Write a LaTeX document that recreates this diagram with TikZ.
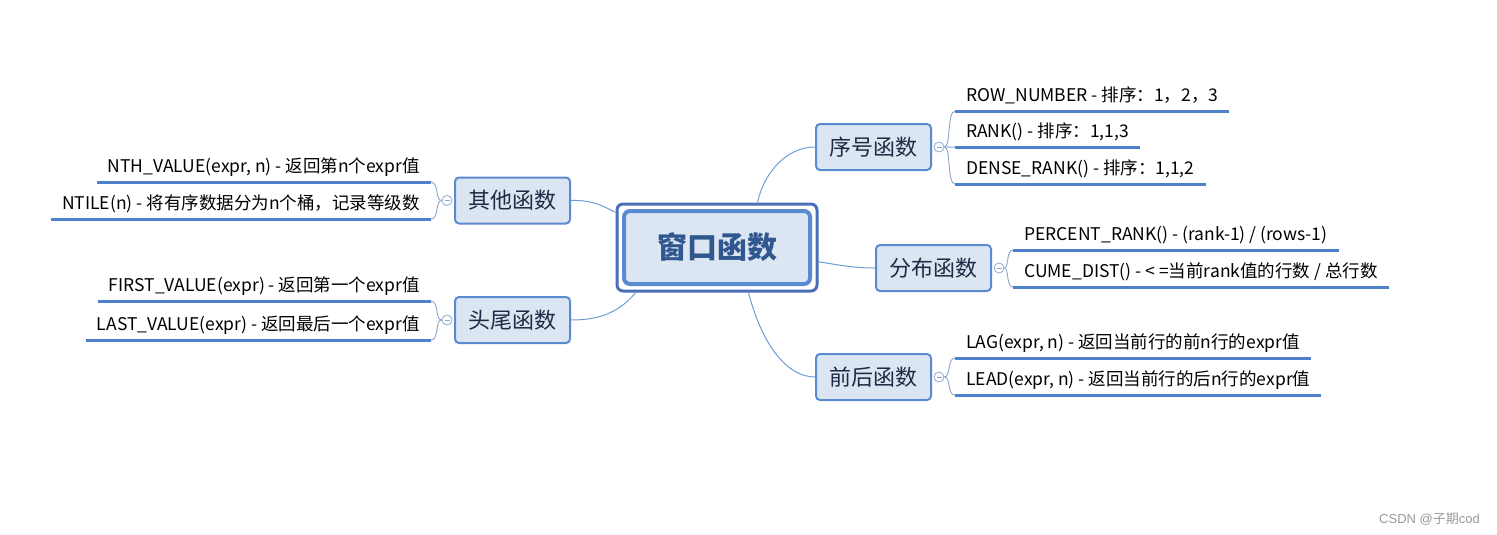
\documentclass[tikz,border=0pt]{standalone}
\usepackage{fontspec}
\setmainfont{Noto Sans CJK SC}
\newfontfamily\wmfont{Liberation Sans}
\usetikzlibrary{fit}
\definecolor{boxfill}{HTML}{DCE6F2}
\definecolor{boxline}{HTML}{5A8AD0}
\definecolor{outerline}{HTML}{4A6FB8}
\definecolor{ulcol}{HTML}{4F80CC}
\definecolor{conn}{HTML}{6E9DD8}
\definecolor{maintext}{HTML}{31578F}
\definecolor{branchtext}{HTML}{1F2A44}
\definecolor{togcol}{HTML}{8EA8CC}
\tikzset{
  mainbox/.style={draw=boxline, line width=4pt, fill=boxfill, rounded corners=6pt,
    minimum width=186pt, minimum height=73pt, inner sep=0pt,
    font=\fontsize{30}{32}\selectfont\bfseries, text=maintext},
  outerbox/.style={draw=outerline, line width=3pt, rounded corners=6pt, inner sep=5pt},
  branch/.style={draw=boxline, line width=2pt, fill=boxfill, rounded corners=4pt,
    minimum width=115pt, minimum height=46pt, inner sep=0pt,
    font=\fontsize{22}{24}\selectfont, text=branchtext},
  toggle/.style={circle, draw=togcol, line width=0.8pt, fill=white, minimum size=10pt, inner sep=0pt,
    path picture={\draw[togcol, line width=0.8pt] ([xshift=2.5pt]path picture bounding box.west) -- ([xshift=-2.5pt]path picture bounding box.east);}},
  leaf/.style={inner xsep=11pt, inner ysep=0pt, text height=14pt, text depth=10pt,
    font=\fontsize{17.5}{20}\selectfont, text=black},
  uline/.style={draw=ulcol, line width=3pt},
  link/.style={draw=conn, line width=1pt},
  twig/.style={draw=togcol!80!conn, line width=0.9pt},
  wmark/.style={font=\fontsize{13}{15}\selectfont, text=black!40}
}
\begin{document}
\begin{tikzpicture}[x=1pt, y=-1pt]
\useasboundingbox (0,0) rectangle (1497,535);

% central
\node[mainbox] (c) at (717,247.5) {窗口函数};
\node[outerbox, fit=(c)] (cout) {};

% branches
\node[branch] (n1) at (873.5,147) {序号函数};
\node[branch] (n2) at (933.5,268) {分布函数};
\node[branch] (n3) at (873.5,377) {前后函数};
\node[branch] (n4) at (512.5,200.5) {其他函数};
\node[branch] (n5) at (512.5,320) {头尾函数};

% central links
\draw[link] (cout.48) .. controls (764,172) and (787,147) .. (n1.west);
\draw[link] (cout.-8) .. controls (845,266) and (855,268) .. (n2.west);
\draw[link] (cout.-55) .. controls (762,345) and (787,377) .. (n3.west);
\draw[link] (cout.161) .. controls (600,204) and (590,200) .. (n4.east);
\draw[link] (cout.209) .. controls (617,315) and (595,320) .. (n5.east);

% toggles
\node[toggle] (t1) at (939,147) {};
\node[toggle] (t2) at (999,268) {};
\node[toggle] (t3) at (939,377) {};
\node[toggle] (t4) at (447,200.5) {};
\node[toggle] (t5) at (447,320) {};

% leaves right
\node[leaf, anchor=base west] (l11) at (955,101) {ROW\_NUMBER - 排序：1，2，3};
\node[leaf, anchor=base west] (l12) at (955,137) {RANK() - 排序：1,1,3};
\node[leaf, anchor=base west] (l13) at (955,174) {DENSE\_RANK() - 排序：1,1,2};
\node[leaf, anchor=base west] (l21) at (1013,240) {PERCENT\_RANK() - (rank-1) / (rows-1)};
\node[leaf, anchor=base west] (l22) at (1013,277) {CUME\_DIST() - < =当前rank值的行数 / 总行数};
\node[leaf, anchor=base west] (l31) at (955,348) {LAG(expr, n) - 返回当前行的前n行的expr值};
\node[leaf, anchor=base west] (l32) at (955,385) {LEAD(expr, n) - 返回当前行的后n行的expr值};
% leaves left
\node[leaf, anchor=base east] (l41) at (431,172) {NTH\_VALUE(expr, n) - 返回第n个expr值};
\node[leaf, anchor=base east] (l42) at (431,209) {NTILE(n) - 将有序数据分为n个桶，记录等级数};
\node[leaf, anchor=base east] (l51) at (431,291) {FIRST\_VALUE(expr) - 返回第一个expr值};
\node[leaf, anchor=base east] (l52) at (431,330) {LAST\_VALUE(expr) - 返回最后一个expr值};

% underlines
\foreach \l in {l11,l12,l13,l21,l22,l31,l32,l41,l42,l51,l52}
  \draw[uline] (\l.south west) -- (\l.south east);

% twigs right
\draw[twig] (t1.east) .. controls (951,147) and (947,111) .. (l11.south west);
\draw[twig] (t1.east) -- (l12.south west);
\draw[twig] (t1.east) .. controls (951,147) and (947,184) .. (l13.south west);
\draw[twig] (t2.east) .. controls (1009,268) and (1006,250) .. (l21.south west);
\draw[twig] (t2.east) .. controls (1009,268) and (1006,287) .. (l22.south west);
\draw[twig] (t3.east) .. controls (951,377) and (947,358) .. (l31.south west);
\draw[twig] (t3.east) .. controls (951,377) and (947,395) .. (l32.south west);
% twigs left
\draw[twig] (t4.west) .. controls (435,200.5) and (439,182) .. (l41.south east);
\draw[twig] (t4.west) .. controls (435,200.5) and (439,219) .. (l42.south east);
\draw[twig] (t5.west) .. controls (435,320) and (439,301) .. (l51.south east);
\draw[twig] (t5.west) .. controls (435,320) and (439,340) .. (l52.south east);

% watermark
\node[wmark, anchor=base east, inner sep=0pt] (wm) at (1480,523) {{\wmfont CSDN @}子期{\wmfont cod}};
\end{tikzpicture}
\end{document}
